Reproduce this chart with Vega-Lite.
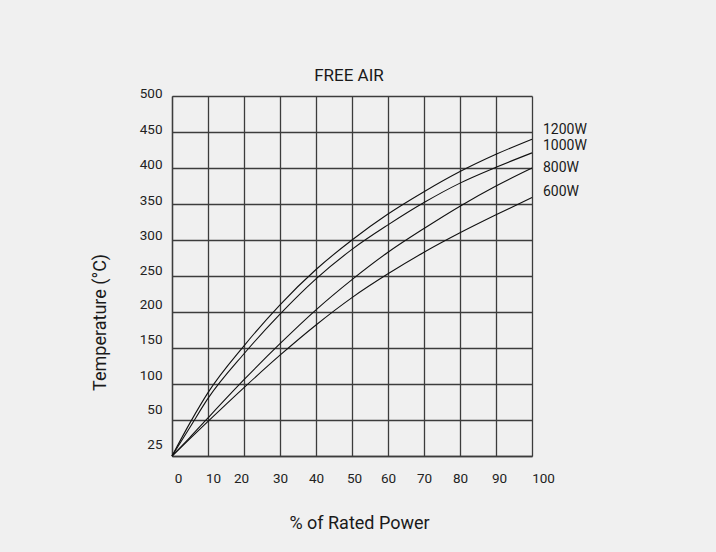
{
  "$schema": "https://vega.github.io/schema/vega-lite/v6.json",
  "width": 360,
  "height": 360,
  "autosize": "none",
  "padding": {"left": 172, "top": 96, "right": 184, "bottom": 96},
  "background": "#f0f0f0",
  "config": {
    "font": "Roboto",
    "view": {"stroke": null}
  },
  "title": {
    "text": "FREE AIR",
    "fontSize": 17,
    "fontWeight": "normal",
    "color": "#1a1a1a",
    "offset": 2,
    "dx": -3
  },
  "datasets": {
    "curves": [
      {"series": "1200W", "power": 0, "temp": 25},
      {"series": "1200W", "power": 5, "temp": 48},
      {"series": "1200W", "power": 10, "temp": 88},
      {"series": "1200W", "power": 20, "temp": 153},
      {"series": "1200W", "power": 30, "temp": 210},
      {"series": "1200W", "power": 40, "temp": 259},
      {"series": "1200W", "power": 50, "temp": 300},
      {"series": "1200W", "power": 60, "temp": 336},
      {"series": "1200W", "power": 70, "temp": 367},
      {"series": "1200W", "power": 80, "temp": 395},
      {"series": "1200W", "power": 90, "temp": 419},
      {"series": "1200W", "power": 100, "temp": 440},
      {"series": "1000W", "power": 0, "temp": 25},
      {"series": "1000W", "power": 5, "temp": 45},
      {"series": "1000W", "power": 10, "temp": 80},
      {"series": "1000W", "power": 20, "temp": 142},
      {"series": "1000W", "power": 30, "temp": 197},
      {"series": "1000W", "power": 40, "temp": 246},
      {"series": "1000W", "power": 50, "temp": 287},
      {"series": "1000W", "power": 60, "temp": 321},
      {"series": "1000W", "power": 70, "temp": 352},
      {"series": "1000W", "power": 80, "temp": 379},
      {"series": "1000W", "power": 90, "temp": 401},
      {"series": "1000W", "power": 100, "temp": 421},
      {"series": "800W", "power": 0, "temp": 25},
      {"series": "800W", "power": 5, "temp": 38},
      {"series": "800W", "power": 10, "temp": 53},
      {"series": "800W", "power": 20, "temp": 106},
      {"series": "800W", "power": 30, "temp": 156},
      {"series": "800W", "power": 40, "temp": 203},
      {"series": "800W", "power": 50, "temp": 245},
      {"series": "800W", "power": 60, "temp": 283},
      {"series": "800W", "power": 70, "temp": 316},
      {"series": "800W", "power": 80, "temp": 347},
      {"series": "800W", "power": 90, "temp": 375},
      {"series": "800W", "power": 100, "temp": 400},
      {"series": "600W", "power": 0, "temp": 25},
      {"series": "600W", "power": 5, "temp": 37},
      {"series": "600W", "power": 10, "temp": 49},
      {"series": "600W", "power": 20, "temp": 95},
      {"series": "600W", "power": 30, "temp": 140},
      {"series": "600W", "power": 40, "temp": 182},
      {"series": "600W", "power": 50, "temp": 220},
      {"series": "600W", "power": 60, "temp": 253},
      {"series": "600W", "power": 70, "temp": 283},
      {"series": "600W", "power": 80, "temp": 310},
      {"series": "600W", "power": 90, "temp": 335},
      {"series": "600W", "power": 100, "temp": 359}
    ],
    "labels": [
      {"series": "1200W", "power": 100, "temp": 453},
      {"series": "1000W", "power": 100, "temp": 430},
      {"series": "800W", "power": 100, "temp": 400},
      {"series": "600W", "power": 100, "temp": 367}
    ]
  },
  "layer": [
    {
      "data": {"name": "curves"},
      "mark": {"type": "line", "interpolate": "monotone", "color": "#111111", "strokeWidth": 1.1},
      "encoding": {
        "x": {
          "field": "power",
          "type": "quantitative",
          "scale": {"domain": [0, 100], "nice": false},
          "axis": {
            "values": [0, 10, 20, 30, 40, 50, 60, 70, 80, 90, 100],
            "tickCount": 20,
            "grid": true,
            "gridColor": "#3c3c3c",
            "gridWidth": 1.3,
            "gridOpacity": 1,
            "domainColor": "#3c3c3c",
            "domainWidth": 1.3,
            "ticks": false,
            "labelPadding": 15,
            "labelFontSize": 13.5,
            "labelColor": "#222222",
            "labelFlush": false,
            "labelOverlap": false,
            "labelOffset": {
              "condition": [
                {"test": "datum.value == 0", "value": 6},
                {"test": "datum.value == 10", "value": 5},
                {"test": "datum.value == 20", "value": -3},
                {"test": "datum.value == 50", "value": 2},
                {"test": "datum.value == 90", "value": 3},
                {"test": "datum.value == 100", "value": 11}
              ],
              "value": 0
            },
            "title": "% of Rated Power",
            "titleFontSize": 18,
            "titleFontWeight": "normal",
            "titleColor": "#1a1a1a",
            "titleX": 187,
            "titleY": 67,
            "titleBaseline": "middle",
            "titleAlign": "center"
          }
        },
        "y": {
          "field": "temp",
          "type": "quantitative",
          "scale": {"domain": [25, 50, 500], "range": [360, 324, 0], "nice": false, "zero": false},
          "axis": {
            "values": [25, 50, 100, 150, 200, 250, 300, 350, 400, 450, 500],
            "tickCount": 20,
            "grid": true,
            "gridColor": "#3c3c3c",
            "gridWidth": 1.3,
            "gridOpacity": 1,
            "domainColor": "#3c3c3c",
            "domainWidth": 1.3,
            "ticks": false,
            "labelPadding": 10,
            "labelFontSize": 13.5,
            "labelColor": "#222222",
            "labelFlush": false,
            "labelOverlap": false,
            "labelOffset": {
              "condition": [
                {"test": "datum.value == 25", "value": -12},
                {"test": "datum.value == 50", "value": -11},
                {"test": "datum.value == 100", "value": -9},
                {"test": "datum.value == 150", "value": -9},
                {"test": "datum.value == 200", "value": -8},
                {"test": "datum.value == 250", "value": -6},
                {"test": "datum.value == 300", "value": -4.5},
                {"test": "datum.value == 350", "value": -3.7},
                {"test": "datum.value == 400", "value": -3.5}
              ],
              "value": -2.5
            },
            "title": "Temperature (°C)",
            "titleFontSize": 18,
            "titleFontWeight": "normal",
            "titleColor": "#1a1a1a",
            "titleAngle": -90,
            "titleX": -72,
            "titleY": 226,
            "titleBaseline": "middle",
            "titleAlign": "center"
          }
        },
        "detail": {"field": "series"}
      }
    },
    {
      "data": {"name": "labels"},
      "mark": {"type": "text", "align": "left", "baseline": "middle", "dx": 11, "fontSize": 14, "color": "#1a1a1a"},
      "encoding": {
        "x": {"field": "power", "type": "quantitative"},
        "y": {"field": "temp", "type": "quantitative"},
        "text": {"field": "series"}
      }
    }
  ]
}
